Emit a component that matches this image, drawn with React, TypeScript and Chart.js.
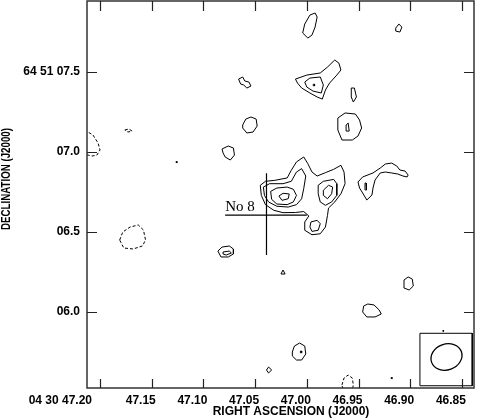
import React, { useEffect, useRef } from "react";
import { Chart, registerables } from "chart.js";

Chart.register(...registerables);

type Pt = [number, number];

// axes (RA seconds of 04h30m, Dec arcsec of +64d51m)
const RA_MIN = 46.8383;
const RA_MAX = 47.2126;
const DEC_MIN = 5.525;
const DEC_MAX = 7.944;
const X_TICKS = [47.2, 47.15, 47.1, 47.05, 47.0, 46.95, 46.9, 46.85];
const X_TICK_LABELS = ["04 30 47.20", "47.15", "47.10", "47.05", "47.00", "46.95", "46.90", "46.85"];
const Y_TICKS = [6.0, 6.5, 7.0, 7.5];
const Y_TICK_LABELS = ["06.0", "06.5", "07.0", "64 51 07.5"];
const X_TITLE = "RIGHT ASCENSION (J2000)";
const Y_TITLE = "DECLINATION (J2000)";

// solid (positive) contours: [RA s, Dec "]
const MAIN_OUTER: Pt[] = [[47.045,6.792],[47.040,6.817],[47.031,6.823],[47.019,6.838],[47.015,6.886],[47.010,6.938],[47.003,6.969],[46.999,6.927],[46.995,6.875],[46.990,6.850],[46.982,6.871],[46.974,6.892],[46.967,6.917],[46.964,6.875],[46.963,6.802],[46.967,6.739],[46.973,6.688],[46.979,6.650],[46.980,6.604],[46.982,6.531],[46.987,6.489],[46.995,6.483],[47.002,6.511],[47.002,6.563],[46.998,6.600],[47.003,6.628],[47.011,6.622],[47.023,6.621],[47.032,6.636],[47.040,6.671],[47.044,6.729]];
const LEFT_2: Pt[] = [[47.042,6.781],[47.036,6.802],[47.023,6.802],[47.015,6.817],[47.010,6.875],[47.005,6.896],[47.001,6.850],[47.003,6.771],[47.005,6.708],[47.010,6.671],[47.018,6.656],[47.029,6.661],[47.037,6.688],[47.041,6.729]];
const LEFT_3: Pt[] = [[47.035,6.754],[47.029,6.775],[47.019,6.781],[47.013,6.767],[47.010,6.729],[47.013,6.688],[47.019,6.671],[47.029,6.675],[47.034,6.704]];
const LEFT_4: Pt[] = [[47.027,6.725],[47.023,6.742],[47.017,6.738],[47.018,6.708],[47.024,6.698]];
const RIGHT_2: Pt[] = [[46.989,6.792],[46.984,6.817],[46.974,6.829],[46.971,6.802],[46.971,6.729],[46.976,6.688],[46.982,6.667],[46.987,6.688],[46.989,6.739]];
const RIGHT_3: Pt[] = [[46.984,6.761],[46.979,6.792],[46.975,6.781],[46.976,6.739],[46.980,6.708],[46.984,6.729]];
const LOWER_2: Pt[] = [[46.996,6.563],[46.990,6.573],[46.987,6.552],[46.989,6.511],[46.995,6.504],[46.997,6.531]];
const EAST_ARC: Pt[] = [[46.9505,6.8125],[46.946,6.844],[46.936,6.869],[46.929,6.900],[46.924,6.925],[46.918,6.931],[46.913,6.9125],[46.910,6.8875],[46.905,6.881],[46.902,6.856],[46.903,6.844],[46.907,6.850],[46.912,6.8625],[46.918,6.869],[46.924,6.875],[46.929,6.869],[46.934,6.825],[46.936,6.775],[46.937,6.731],[46.942,6.700],[46.946,6.744],[46.949,6.775]];
const EAST_INNER: Pt[] = [[46.9437,6.806],[46.9427,6.806],[46.9423,6.7625],[46.9433,6.7625]];
const NORTH_1: Pt[] = [[47.004,7.744],[47.002,7.800],[46.997,7.856],[46.992,7.869],[46.990,7.844],[46.992,7.781],[46.995,7.731],[46.999,7.7125]];
const NORTH_EDGE: Pt[] = [[46.914,7.775],[46.911,7.800],[46.908,7.781],[46.910,7.750],[46.914,7.756]];
const NORTH_OUTER: Pt[] = [[47.011,7.456],[47.000,7.481],[46.987,7.494],[46.980,7.531],[46.973,7.575],[46.969,7.556],[46.967,7.5125],[46.971,7.481],[46.978,7.431],[46.982,7.3875],[46.985,7.331],[46.990,7.344],[46.997,7.369],[47.005,7.400],[47.009,7.431]];
const NORTH_INNER: Pt[] = [[47.002,7.4375],[46.997,7.4625],[46.987,7.469],[46.984,7.419],[46.986,7.369],[46.994,7.381],[47.000,7.406]];
const NORTH_PEAK: Pt[] = [[46.9938,7.4235],[46.9925,7.4235],[46.9925,7.414],[46.9938,7.414]];
const NORTH_SMALL: Pt[] = [[46.957,7.400],[46.954,7.400],[46.952,7.344],[46.955,7.3125],[46.957,7.344]];
const SQUIGGLE: Pt[] = [[47.066,7.456],[47.062,7.469],[47.060,7.444],[47.056,7.4375],[47.054,7.4125],[47.058,7.400],[47.061,7.419],[47.064,7.425]];
const RING_W: Pt[] = [[47.062,7.169],[47.059,7.206],[47.054,7.219],[47.049,7.206],[47.048,7.1625],[47.052,7.125],[47.058,7.119],[47.062,7.150]];
const RING_E: Pt[] = [[46.970,7.2125],[46.963,7.244],[46.953,7.2375],[46.949,7.200],[46.947,7.150],[46.9505,7.100],[46.956,7.075],[46.966,7.075],[46.970,7.1375]];
const RING_E_INNER: Pt[] = [[46.962,7.169],[46.960,7.181],[46.959,7.131],[46.962,7.131]];
const SPOT_C: Pt[] = [[47.082,7.019],[47.076,7.0375],[47.071,7.025],[47.070,6.981],[47.074,6.950],[47.079,6.969],[47.081,6.994]];
const SW_OUTER: Pt[] = [[47.086,6.381],[47.082,6.406],[47.075,6.4125],[47.071,6.394],[47.071,6.3625],[47.076,6.344],[47.083,6.344]];
const SW_INNER: Pt[] = [[47.081,6.375],[47.075,6.381],[47.073,6.369],[47.078,6.356],[47.081,6.3625]];
const TRI: Pt[] = [[47.025,6.2375],[47.023,6.2625],[47.021,6.2375]];
const HEX_E: Pt[] = [[46.906,6.200],[46.902,6.219],[46.898,6.206],[46.897,6.1625],[46.901,6.1375],[46.906,6.150]];
const BLOB_SE: Pt[] = [[46.945,6.0375],[46.941,6.050],[46.935,6.044],[46.930,6.0125],[46.928,5.9875],[46.934,5.969],[46.942,5.969],[46.946,6.000]];
const OVAL_S: Pt[] = [[47.014,5.750],[47.012,5.7875],[47.007,5.806],[47.002,5.7875],[47.001,5.7375],[47.005,5.700],[47.010,5.700],[47.014,5.725]];
const OVAL_S_PEAK: Pt[] = [[47.0062,5.756],[47.005,5.756],[47.005,5.745],[47.0062,5.745]];
const DIAMOND_S: Pt[] = [[47.039,5.6375],[47.037,5.656],[47.034,5.6375],[47.037,5.619]];
const DOT_1: Pt[] = [[47.1265,6.940],[47.1255,6.940],[47.1255,6.934],[47.1265,6.934]];
const DOT_2: Pt[] = [[46.9185,5.590],[46.9175,5.590],[46.9175,5.584],[46.9185,5.584]];
const DOT_3: Pt[] = [[46.8685,5.884],[46.8675,5.884],[46.868,5.878]];

// dashed (negative) contours
const NEG_WEST: Pt[] = [[47.2155,7.131],[47.2116,7.125],[47.2068,7.106],[47.2019,7.056],[47.200,7.0125],[47.203,6.981],[47.2077,6.975],[47.2116,6.981],[47.2155,6.9875]];
const NEG_SMALL: Pt[] = [[47.176,7.1375],[47.172,7.144],[47.169,7.131],[47.173,7.125]];
const NEG_RING: Pt[] = [[47.181,6.450],[47.178,6.500],[47.171,6.531],[47.163,6.544],[47.158,6.5125],[47.156,6.450],[47.159,6.4125],[47.168,6.394],[47.177,6.400]];
const NEG_SOUTH: Pt[] = [[46.966,5.544],[46.964,5.5875],[46.960,5.606],[46.956,5.5875],[46.955,5.544],[46.956,5.5125],[46.965,5.5125]];

// annotation: cross marking source "No 8"
const CROSS_H: Pt[] = [[47.079,6.606],[47.000,6.606]];
const CROSS_V: Pt[] = [[47.039,6.867],[47.039,6.356]];
const SOURCE_LABEL = "No 8";
const SOURCE_LABEL_POS: Pt = [47.079, 6.631];

// beam inset
const BEAM_BOX: Pt[] = [[46.8906,5.867],[46.840,5.867],[46.840,5.539],[46.8906,5.539]];
const BEAM_CENTER: Pt = [46.8649, 5.719];
const BEAM_HALF_RA = 0.0153;
const BEAM_HALF_DEC = 0.081;
const BEAM_ANGLE_DEG = -20;

const SOLID: Pt[][] = [MAIN_OUTER, LEFT_2, LEFT_3, LEFT_4, RIGHT_2, RIGHT_3, LOWER_2, EAST_ARC, EAST_INNER, NORTH_1, NORTH_EDGE, NORTH_OUTER, NORTH_INNER, NORTH_PEAK, NORTH_SMALL, SQUIGGLE, RING_W, RING_E, RING_E_INNER, SPOT_C, SW_OUTER, SW_INNER, TRI, HEX_E, BLOB_SE, OVAL_S, OVAL_S_PEAK, DIAMOND_S, DOT_1, DOT_2, DOT_3, BEAM_BOX];
const DASHED: Pt[][] = [NEG_WEST, NEG_SMALL, NEG_RING, NEG_SOUTH];
const OPEN_LINES: Pt[][] = [CROSS_H, CROSS_V];

const toXY = (pts: Pt[], close: boolean) => {
  const arr = pts.map(([x, y]) => ({ x, y }));
  if (close && arr.length) arr.push({ ...arr[0] });
  return arr;
};

const LABEL_FONT = 'bold 12px "Liberation Sans", Arial, sans-serif';

const overlay = {
  id: "overlay",
  afterDatasetsDraw(chart: any) {
    const { ctx, chartArea: a, scales } = chart;
    const x = scales.x;
    const y = scales.y;
    ctx.save();
    // beam ellipse
    const cx = x.getPixelForValue(BEAM_CENTER[0]);
    const cy = y.getPixelForValue(BEAM_CENTER[1]);
    const rx = Math.abs(x.getPixelForValue(BEAM_CENTER[0] + BEAM_HALF_RA) - cx);
    const ry = Math.abs(y.getPixelForValue(BEAM_CENTER[1] + BEAM_HALF_DEC) - cy);
    ctx.strokeStyle = "#000";
    ctx.lineWidth = 1.3;
    ctx.beginPath();
    ctx.ellipse(cx, cy, rx, ry, (BEAM_ANGLE_DEG * Math.PI) / 180, 0, Math.PI * 2);
    ctx.stroke();
    // frame
    ctx.strokeStyle = "#333";
    ctx.lineWidth = 1.5;
    ctx.strokeRect(a.left, a.top, a.right - a.left, a.bottom - a.top);
    // inward ticks
    ctx.lineWidth = 1.2;
    ctx.strokeStyle = "#222";
    ctx.beginPath();
    X_TICKS.forEach((v) => {
      const px = Math.round(x.getPixelForValue(v)) + 0.5;
      ctx.moveTo(px, a.bottom);
      ctx.lineTo(px, a.bottom - 9);
      ctx.moveTo(px, a.top);
      ctx.lineTo(px, a.top + 10);
    });
    Y_TICKS.forEach((v) => {
      const py = Math.round(y.getPixelForValue(v)) + 0.5;
      ctx.moveTo(a.left, py);
      ctx.lineTo(a.left + 10, py);
      ctx.moveTo(a.right, py);
      ctx.lineTo(a.right - 10, py);
    });
    ctx.stroke();
    // tick labels
    ctx.fillStyle = "#000";
    ctx.font = LABEL_FONT;
    ctx.textBaseline = "middle";
    X_TICKS.forEach((v, i) => {
      const px = x.getPixelForValue(v);
      if (i === 0) {
        ctx.textAlign = "right";
        ctx.fillText(X_TICK_LABELS[i], px - 8, a.bottom + 13);
      } else {
        ctx.textAlign = "center";
        ctx.fillText(X_TICK_LABELS[i], px - 11, a.bottom + 13);
      }
    });
    ctx.textAlign = "right";
    Y_TICKS.forEach((v, i) => {
      ctx.fillText(Y_TICK_LABELS[i], a.left - 7, y.getPixelForValue(v));
    });
    // axis titles
    ctx.textAlign = "center";
    ctx.fillText(X_TITLE, 291, a.bottom + 24);
    ctx.save();
    ctx.translate(7, 179);
    ctx.rotate(-Math.PI / 2);
    ctx.fillText(Y_TITLE, 0, 0, 102);
    ctx.restore();
    // source label
    ctx.font = '15px "Liberation Serif", "Times New Roman", serif';
    ctx.textAlign = "left";
    ctx.textBaseline = "alphabetic";
    ctx.fillText(SOURCE_LABEL, x.getPixelForValue(SOURCE_LABEL_POS[0]), y.getPixelForValue(SOURCE_LABEL_POS[1]));
    ctx.restore();
  },
};

export default function App() {
  const ref = useRef<HTMLCanvasElement | null>(null);
  useEffect(() => {
    if (!ref.current) return;
    const datasets: any[] = [];
    SOLID.forEach((c) =>
      datasets.push({ data: toXY(c, true), showLine: true, borderColor: "#000", borderWidth: 1, pointRadius: 0, fill: false, tension: 0 })
    );
    DASHED.forEach((c) =>
      datasets.push({ data: toXY(c, true), showLine: true, borderColor: "#000", borderWidth: 1, borderDash: [3, 2], pointRadius: 0, fill: false, tension: 0 })
    );
    OPEN_LINES.forEach((c) =>
      datasets.push({ data: toXY(c, false), showLine: true, borderColor: "#000", borderWidth: 1.2, pointRadius: 0, fill: false, tension: 0 })
    );
    const chart = new Chart(ref.current, {
      type: "scatter",
      data: { datasets },
      options: {
        responsive: false,
        animation: false,
        events: [],
        layout: { padding: { top: 1, right: 4, left: 0, bottom: 0 } },
        plugins: { legend: { display: false }, tooltip: { enabled: false }, title: { display: false } },
        scales: {
          x: {
            type: "linear",
            reverse: true,
            min: RA_MIN,
            max: RA_MAX,
            grid: { display: false, drawTicks: false },
            border: { display: false },
            ticks: { display: false },
            afterBuildTicks: (s: any) => {
              s.ticks = X_TICKS.map((v) => ({ value: v }));
            },
            afterFit: (s: any) => {
              s.height = 31;
            },
          },
          y: {
            type: "linear",
            min: DEC_MIN,
            max: DEC_MAX,
            grid: { display: false, drawTicks: false },
            border: { display: false },
            ticks: { display: false },
            afterBuildTicks: (s: any) => {
              s.ticks = Y_TICKS.map((v) => ({ value: v }));
            },
            afterFit: (s: any) => {
              s.width = 87;
            },
          },
        },
      },
      plugins: [overlay],
    });
    return () => chart.destroy();
  }, []);
  return (
    <div style={{ position: "fixed", left: 0, top: 0, width: 478, height: 419, background: "#fff" }}>
      <canvas ref={ref} width={478} height={419} style={{ display: "block" }} />
    </div>
  );
}
